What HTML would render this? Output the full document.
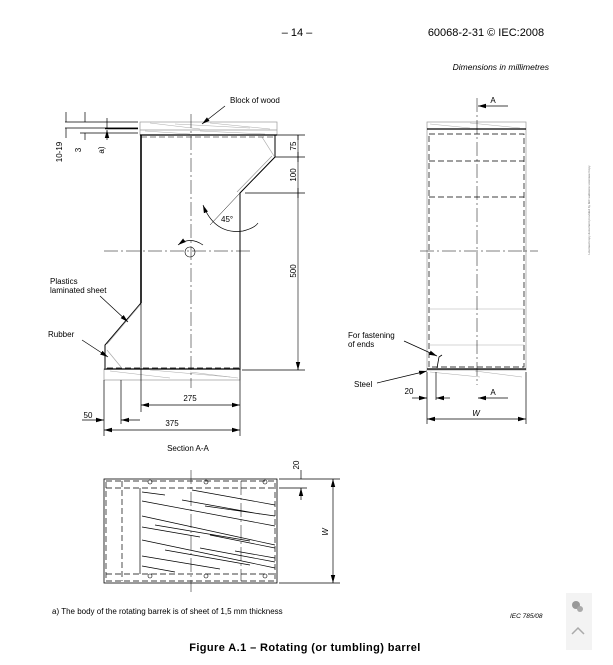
<!DOCTYPE html>
<html><head><meta charset="utf-8"><style>
html,body{margin:0;padding:0;background:#fff;}
svg{display:block;font-family:"Liberation Sans",Arial,sans-serif;}
</style></head><body>
<svg width="613" height="665" viewBox="0 0 613 665" xmlns="http://www.w3.org/2000/svg">
<defs>
<marker id="ar" markerWidth="8" markerHeight="6" refX="8" refY="3" orient="auto-start-reverse" markerUnits="userSpaceOnUse"><path d="M0,0.8 L8,3 L0,5.2 z" fill="#000"/></marker>
</defs>
<rect width="613" height="665" fill="#fff"/>
<!-- header -->
<text x="297" y="36" font-size="11" text-anchor="middle">– 14 –</text>
<text x="486" y="36" font-size="11" text-anchor="middle">60068-2-31 © IEC:2008</text>
<text x="549" y="70" font-size="8.5" font-style="italic" text-anchor="end">Dimensions in millimetres</text>

<g stroke="#000" fill="none" stroke-width="0.7">
<!-- LEFT SECTION -->
<!-- top wood -->
<rect x="140" y="122" width="137" height="13" stroke="#999"/>
<line x1="140" y1="130" x2="277" y2="130" stroke="#999"/>
<g stroke="#aaa" stroke-width="0.5">
<path d="M150,123 L200,129 M175,124 L250,128 M210,123 L270,129 M145,131 L190,134 M200,131 L265,134"/>
</g>
<line x1="140" y1="135" x2="277" y2="135" stroke-width="1.2"/>
<!-- left wall -->
<line x1="141" y1="135" x2="141" y2="303" stroke-width="1.6"/>
<path d="M141,303 L105,345 L105,368" stroke-width="1"/>
<path d="M140,305 L107,344" stroke="#999"/>
<path d="M107,350 L121,367" stroke="#aaa"/>
<path d="M107,368 L240,368" stroke-dasharray="6,3"/>
<!-- bottom wood -->
<rect x="104" y="369" width="136" height="11" stroke="#999"/>
<line x1="104" y1="369" x2="240" y2="369" stroke-width="1.2"/>
<g stroke="#aaa" stroke-width="0.5"><path d="M110,371 L170,378 M150,370 L230,377 M190,372 L238,378"/></g>
<!-- right wall -->
<path d="M240,370 L240,193 L275,157 L275,135" stroke-width="1"/>
<path d="M237,192 L272,156" stroke="#999"/>
<path d="M262,137 L274,156" stroke="#aaa"/>
<path d="M141,137 L275,137" stroke-dasharray="6,3" stroke-width="0.5"/>
<!-- center lines -->
<line x1="191" y1="114" x2="191" y2="388" stroke-dasharray="14,3,2,3" stroke-width="0.5"/>
<line x1="104" y1="251" x2="252" y2="251" stroke-dasharray="14,3,2,3" stroke-width="0.5"/>
<circle cx="190" cy="252" r="5" stroke-width="0.6"/>
<path d="M178,245 Q190,236 203,245" marker-start="url(#ar)" stroke-width="0.7"/>
<!-- 45 deg -->
<line x1="210" y1="225" x2="240" y2="193" stroke-width="0.5"/>
<path d="M203,205 Q215,235 243,231 Q255,228 258,223" marker-start="url(#ar)" stroke-width="0.7"/>
<!-- right dims -->
<line x1="298" y1="135" x2="298" y2="370" stroke-width="0.6"/>
<line x1="277" y1="135" x2="305" y2="135"/>
<line x1="275" y1="157" x2="305" y2="157"/>
<line x1="245" y1="193" x2="305" y2="193"/>
<line x1="242" y1="370" x2="305" y2="370"/>
<path d="M298,140 L298,135 M298,152 L298,157 M298,162 L298,157 M298,188 L298,193 M298,198 L298,193 M298,365 L298,370" marker-end="url(#ar)"/>
<!-- bottom dims -->
<line x1="141" y1="303" x2="141" y2="412"/>
<line x1="240" y1="370" x2="240" y2="436"/>
<line x1="104" y1="380" x2="104" y2="436"/>
<line x1="121" y1="380" x2="121" y2="424"/>
<line x1="141" y1="405" x2="240" y2="405" marker-start="url(#ar)" marker-end="url(#ar)"/>
<line x1="104" y1="430" x2="240" y2="430" marker-start="url(#ar)" marker-end="url(#ar)"/>
<line x1="82" y1="420" x2="104" y2="420" marker-end="url(#ar)"/>
<line x1="140" y1="420" x2="121" y2="420" marker-end="url(#ar)"/>
<!-- top-left dims -->
<line x1="65" y1="122" x2="138" y2="122"/>
<line x1="65" y1="128" x2="138" y2="128"/>
<line x1="80" y1="133" x2="138" y2="133"/>
<line x1="105" y1="128.5" x2="138" y2="128.5" stroke-width="1.4"/>
<path d="M66,112 L66,122 M66,138 L66,128 M85,112 L85,122 M85,140 L85,133 M107,118 L107,128 M107,140 L107,130" marker-end="url(#ar)"/>
<!-- leaders -->
<line x1="225" y1="106" x2="202" y2="124" marker-end="url(#ar)"/>
<line x1="100" y1="296" x2="128" y2="322" marker-end="url(#ar)"/>
<line x1="82" y1="340" x2="108" y2="357" marker-end="url(#ar)"/>

<!-- RIGHT VIEW -->
<rect x="427" y="122" width="99" height="248" stroke="#999"/>
<line x1="427" y1="129" x2="526" y2="129" stroke-width="1.2"/>
<line x1="427" y1="369" x2="526" y2="369" stroke-width="1.2"/>
<g stroke="#aaa" stroke-width="0.5"><path d="M430,124 L470,128 M470,123 L520,128 M430,372 L480,377 M475,371 L522,377"/></g>
<rect x="429" y="134" width="95" height="233" stroke-dasharray="6,3"/>
<line x1="429" y1="161" x2="524" y2="161" stroke-dasharray="6,3"/>
<line x1="429" y1="197" x2="524" y2="197" stroke-dasharray="6,3"/>
<line x1="429" y1="309" x2="524" y2="309" stroke="#aaa" stroke-width="0.5"/>
<line x1="429" y1="345" x2="524" y2="345" stroke="#aaa" stroke-width="0.5"/>
<line x1="477" y1="98" x2="477" y2="385" stroke-dasharray="14,3,2,3" stroke-width="0.5"/>
<line x1="420" y1="251" x2="538" y2="251" stroke-dasharray="14,3,2,3" stroke-width="0.5"/>
<line x1="508" y1="106" x2="478" y2="106" marker-end="url(#ar)"/>
<line x1="508" y1="398" x2="478" y2="398" marker-end="url(#ar)"/>
<path d="M437,368 L439,357 L442,355" stroke-width="0.8"/>
<line x1="404" y1="341" x2="437" y2="356" marker-end="url(#ar)"/>
<line x1="377" y1="383" x2="427" y2="371" marker-end="url(#ar)"/>
<line x1="427" y1="372" x2="427" y2="424"/>
<line x1="526" y1="372" x2="526" y2="424"/>
<line x1="436" y1="372" x2="436" y2="400"/>
<line x1="412" y1="398" x2="427" y2="398" marker-end="url(#ar)"/>
<line x1="450" y1="398" x2="436" y2="398" marker-end="url(#ar)"/>
<line x1="427" y1="419" x2="526" y2="419" marker-start="url(#ar)" marker-end="url(#ar)"/>

<!-- BOTTOM VIEW -->
<rect x="104" y="479" width="173" height="104" stroke-width="0.8"/>
<rect x="106" y="481" width="169" height="100" stroke-dasharray="6,3"/>
<line x1="106" y1="488" x2="275" y2="488" stroke-dasharray="6,3"/>
<line x1="106" y1="574" x2="275" y2="574" stroke-dasharray="6,3"/>
<line x1="122" y1="481" x2="122" y2="581" stroke-dasharray="6,3"/>
<line x1="140" y1="488" x2="140" y2="574"/>
<line x1="241" y1="481" x2="241" y2="581" stroke-dasharray="14,3,2,3" stroke-width="0.5"/>
<line x1="191" y1="470" x2="191" y2="592" stroke-dasharray="14,3,2,3" stroke-width="0.5"/>
<g stroke-width="0.7">
<path d="M142,492 L165,495 M192,490 L275,505 M142,501 L275,526 M182,500 L260,514 M205,506 L275,516 M142,516 L275,545 M155,525 L250,541 M210,535 L275,548 M142,540 L275,568 M165,550 L250,565 M142,556 L220,569 M200,548 L275,562 M142,527 L200,537 M142,566 L175,572 M235,551 L275,558"/>
</g>
<g stroke-width="0.6"><circle cx="150" cy="482" r="2"/><circle cx="206" cy="482" r="2"/><circle cx="265" cy="482" r="2"/><circle cx="150" cy="576" r="2"/><circle cx="206" cy="576" r="2"/><circle cx="265" cy="576" r="2"/></g>
<line x1="279" y1="479" x2="340" y2="479"/>
<line x1="279" y1="488" x2="307" y2="488"/>
<line x1="279" y1="583" x2="340" y2="583"/>
<line x1="333" y1="479" x2="333" y2="583" marker-start="url(#ar)" marker-end="url(#ar)"/>
<path d="M301,470 L301,479 M301,500 L301,488" marker-end="url(#ar)"/>
</g>

<!-- labels -->
<g font-size="8" fill="#000">
<text x="230" y="103">Block of wood</text>
<text x="50" y="284">Plastics</text>
<text x="50" y="293">laminated sheet</text>
<text x="48" y="337">Rubber</text>
<text x="190" y="401" text-anchor="middle">275</text>
<text x="172" y="426" text-anchor="middle">375</text>
<text x="88" y="418" text-anchor="middle">50</text>
<text x="221" y="222">45°</text>
<text transform="translate(296,146) rotate(-90)" text-anchor="middle">75</text>
<text transform="translate(296,175) rotate(-90)" text-anchor="middle">100</text>
<text transform="translate(296,271) rotate(-90)" text-anchor="middle">500</text>
<text transform="translate(62,152) rotate(-90)" text-anchor="middle">10-19</text>
<text transform="translate(81,150) rotate(-90)" text-anchor="middle">3</text>
<text transform="translate(104,150) rotate(-90)" text-anchor="middle">a)</text>
<text x="493" y="103" text-anchor="middle">A</text>
<text x="493" y="395" text-anchor="middle">A</text>
<text x="348" y="338">For fastening</text>
<text x="348" y="347">of ends</text>
<text x="354" y="387">Steel</text>
<text x="409" y="394" text-anchor="middle">20</text>
<text x="476" y="416" text-anchor="middle" font-style="italic">W</text>
<text x="188" y="451" text-anchor="middle">Section A-A</text>
<text transform="translate(299,465) rotate(-90)" text-anchor="middle">20</text>
<text transform="translate(328,532) rotate(-90)" text-anchor="middle" font-style="italic">W</text>
<text x="52" y="614">a) The body of the rotating barrek is of sheet of 1,5 mm thickness</text>
<text x="510" y="618" font-size="6.5" font-style="italic">IEC  785/08</text>
</g>
<text x="305" y="651" font-size="11" font-weight="bold" text-anchor="middle" letter-spacing="0.4">Figure A.1 – Rotating (or tumbling) barrel</text>
<text transform="translate(590,210) rotate(-90)" font-size="3" text-anchor="middle" fill="#666">Licensed copy document provided by IEC webstore  Licensee Copy</text>
<!-- side widget -->
<rect x="566" y="593" width="26" height="57" fill="#f3f3f3"/>
<circle cx="576" cy="605" r="4" fill="#999"/><circle cx="580" cy="609" r="3" fill="#aaa"/>
<path d="M572,634 L578,628 L584,634" stroke="#aaa" stroke-width="1.5" fill="none"/>
</svg>
</body></html>
